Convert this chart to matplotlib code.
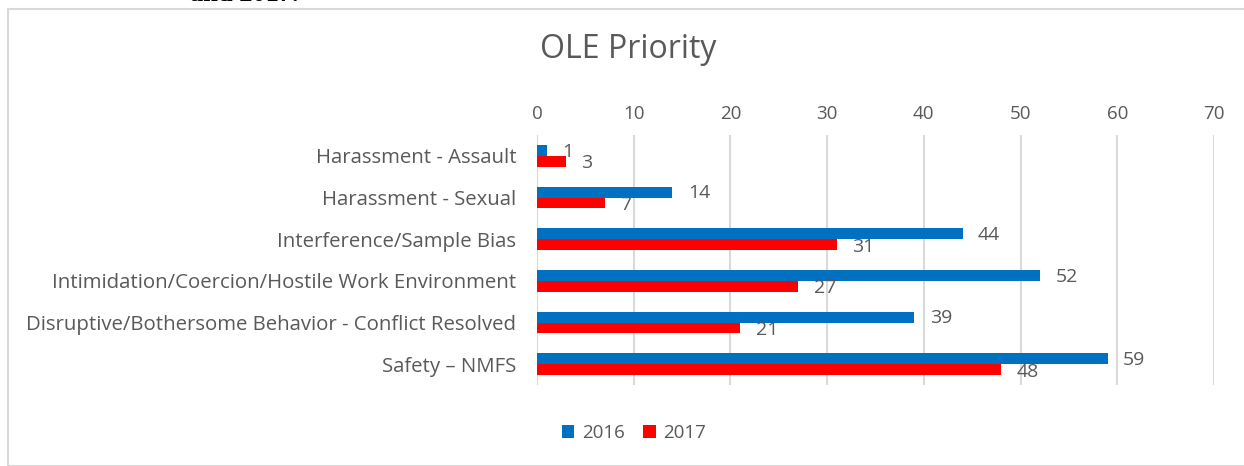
import matplotlib.pyplot as plt
import matplotlib.patches as mpatches
import numpy as np

# data
categories = ['Harassment - Assault', 'Harassment - Sexual', 'Interference/Sample Bias',
              'Intimidation/Coercion/Hostile Work Environment',
              'Disruptive/Bothersome Behavior - Conflict Resolved', 'Safety \u2013 NMFS']
vals_2016 = [1, 14, 44, 52, 39, 59]
vals_2017 = [3, 7, 31, 27, 21, 48]
series_names = ['2016', '2017']
xticks = [0, 10, 20, 30, 40, 50, 60, 70]

blue = '#0070c0'
red = '#ff0000'
txt = '#595959'
plt.rcParams['font.family'] = ['Open Sans', 'DejaVu Sans']

fig = plt.figure(figsize=(12.44, 4.66), dpi=100)
ax = fig.add_axes([537/1244, 1-385/466, 677/1244, 250/466])

# outer chart border
fig.patches.append(mpatches.Rectangle((8/1244, 0), 1.0, 1-9/466, transform=fig.transFigure,
                                      fill=False, edgecolor='#d9d9d9', linewidth=1.5))
# cut-off text from the document above the chart (only its bottom edge shows)
fig.text(190/1244, 1-6/466, 'and 2017.', fontsize=19, family='Liberation Serif',
         fontweight='bold', va='bottom', color='black')

y = np.arange(len(categories))
h = 0.26
b1 = ax.barh(y - h/2, vals_2016, height=h, color=blue, label=series_names[0])
b2 = ax.barh(y + h/2, vals_2017, height=h, color=red, label=series_names[1])

for yy, v in zip(y, vals_2016):
    ax.text(v + 1.6, yy - h/2 + 0.03, str(v), va='center', ha='left', fontsize=14, color=txt)
for yy, v in zip(y, vals_2017):
    ax.text(v + 1.6, yy + h/2 + 0.05, str(v), va='center', ha='left', fontsize=14, color=txt)

ax.set_xlim(0, 70)
ax.set_ylim(5.5, -0.5)
ax.set_xticks(xticks)
ax.xaxis.tick_top()
ax.set_yticks(y)
ax.set_yticklabels(categories)
ax.tick_params(axis='x', length=0, pad=9, labelsize=13.5, labelcolor=txt)
ax.tick_params(axis='y', length=0, pad=15, labelsize=14.7, labelcolor=txt)
ax.grid(axis='x', color='#d9d9d9', linewidth=1.5)
ax.set_axisbelow(True)
for s in ax.spines.values():
    s.set_visible(False)
ax.axvline(0, color='#d9d9d9', linewidth=1.5, zorder=0)

fig.text(628/1244, 1-50/466, 'OLE Priority', fontsize=23, color=txt, ha='center', va='center')

fig.legend(handles=[b1, b2], loc='center', bbox_to_anchor=(634/1244, 1-433/466), ncol=2,
           frameon=False, fontsize=13.5, labelcolor=txt, handlelength=0.65, handleheight=0.65,
           handletextpad=0.4, columnspacing=1.0)

plt.savefig('out.png', dpi=100)
